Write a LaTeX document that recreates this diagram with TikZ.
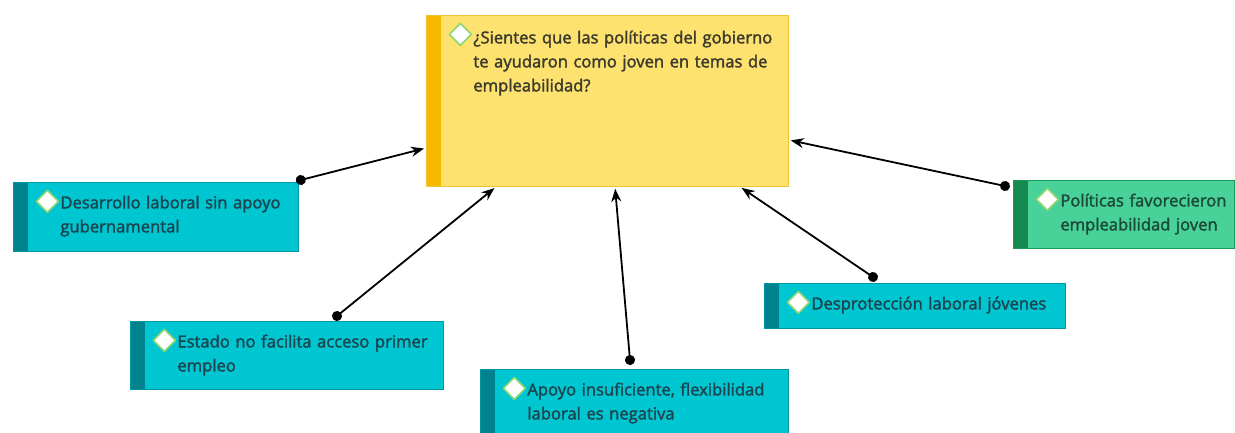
\documentclass[tikz,border=0pt]{standalone}
\usepackage{fontspec}
\setmainfont{Open Sans}[FakeBold=2]
\usepackage{xcolor}
\usepackage{tikz}
\usetikzlibrary{arrows.meta, calc}

\definecolor{questionfill}{HTML}{FDE26F}
\definecolor{questionline}{HTML}{F2C230}
\definecolor{questionstrip}{HTML}{F6B900}
\definecolor{questiontext}{HTML}{3B3A2C}
\definecolor{leaffill}{HTML}{00C6D2}
\definecolor{leafline}{HTML}{0097A4}
\definecolor{leafstrip}{HTML}{00838E}
\definecolor{leaftext}{HTML}{1B4650}
\definecolor{goodfill}{HTML}{48D29A}
\definecolor{goodline}{HTML}{1A9A5C}
\definecolor{goodstrip}{HTML}{138A4E}
\definecolor{goodtext}{HTML}{1B4A38}
\definecolor{iconline}{HTML}{8ED672}

\begin{document}
\begin{tikzpicture}[
    x=1pt, y=-1pt,
    icon/.style={fill=white, draw=iconline, line width=1.6pt, line join=round},
    card/.style={rectangle, draw=#1line, fill=#1fill, text=#1text, anchor=north west,
        inner xsep=0pt, inner ysep=0pt, line width=0.8pt, text height=26pt,
        font=\fontsize{16.6}{24}\selectfont,
        execute at begin node={\raggedright\leftskip=47pt\rightskip=-20pt plus 1fil\relax},
        path picture={
            \fill[#1strip] (path picture bounding box.north west) rectangle ([xshift=15pt]path picture bounding box.south west);
            \draw[icon] ([xshift=34pt,yshift=-19pt]path picture bounding box.north west)
                +(-11pt,0pt) -- +(0pt,11pt) -- +(11pt,0pt) -- +(0pt,-11pt) -- cycle;
        }},
    link/.style={{Circle[length=10pt]}-{Stealth[length=13pt,width=10pt]}, line width=1.8pt,
        shorten <=-5pt, shorten >=2pt}
]

\path[fill=white, use as bounding box] (0,0) rectangle (1235,432);

% Question
\node[card=question, text width=362pt, text height=28pt, text depth=143pt] (question) at (426,15)
    {¿Sientes que las políticas del gobierno\\te ayudaron como joven en temas de\\empleabilidad?};

% Answers
\node[card=leaf, text width=285pt, text depth=43pt] (desarrollo) at (13,182)
    {Desarrollo laboral sin apoyo\\gubernamental};
\node[card=leaf, text width=313pt, text depth=42pt] (estado) at (130,321)
    {Estado no facilita acceso primer\\empleo};
\node[card=leaf, text width=308pt, text depth=42pt] (apoyo) at (480,369)
    {Apoyo insuficiente, flexibilidad\\laboral es negativa};
\node[card=leaf, text width=301pt, text depth=19pt] (desproteccion) at (764,283)
    {Desprotección laboral jóvenes};
\node[card=good, text width=221pt, text depth=42pt] (politicas) at (1013,180)
    {Políticas favorecieron\\empleabilidad joven};

% Links
\draw[link] ([shift={(2,-2)}]desarrollo.north east) -- ([yshift=-133pt]question.north west);
\draw[link] ([shift={(207,-5)}]estado.north west) -- ([xshift=70pt]question.south west);
\draw[link] ([shift={(150,-9)}]apoyo.north west) -- ([xshift=189pt]question.south west);
\draw[link] ([shift={(109,-6)}]desproteccion.north west) -- ([xshift=314pt]question.south west);
\draw[link] ([shift={(-8,6)}]politicas.north west) -- ([yshift=-125pt]question.north east);

\end{tikzpicture}
\end{document}
